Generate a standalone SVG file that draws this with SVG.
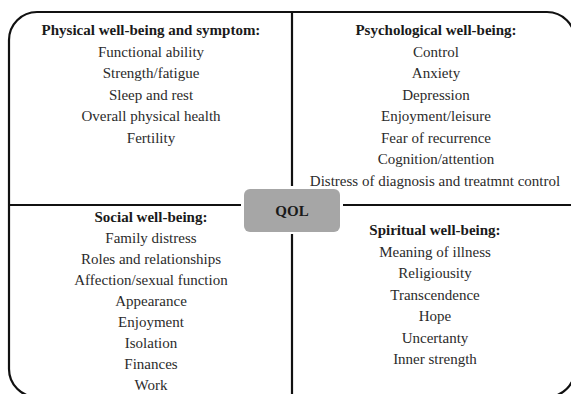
<svg xmlns="http://www.w3.org/2000/svg" width="571" height="394" viewBox="0 0 571 394" font-family="'Liberation Serif', 'DejaVu Serif', serif">
<style>
text{font-family:'Liberation Serif','DejaVu Serif',serif;text-anchor:middle;}
.h{font-size:15px;font-weight:bold;fill:#1a1a1a;}
.i{font-size:15px;fill:#2b2b2b;}
.ln{stroke:#111;stroke-width:2.2;fill:none;}
</style>
<rect width="571" height="394" fill="#fff"/>
<g id="frame">
<rect class="ln" x="9" y="12" width="566" height="385" rx="28"/>
</g>
<g id="connectors">
<line class="ln" x1="292" y1="12" x2="292" y2="186"/>
<line class="ln" x1="292" y1="234" x2="292" y2="397"/>
<line class="ln" x1="9" y1="205" x2="241" y2="205"/>
<line class="ln" x1="343" y1="205" x2="575" y2="205"/>
</g>
<g id="physical">
<text class="h" x="151" y="35">Physical well-being and symptom:</text>
<text class="i" x="151" y="56.5">Functional ability</text>
<text class="i" x="151" y="78">Strength/fatigue</text>
<text class="i" x="151" y="99.5">Sleep and rest</text>
<text class="i" x="151" y="121">Overall physical health</text>
<text class="i" x="151" y="142.5">Fertility</text>
</g>
<g id="psychological">
<text class="h" x="436" y="35">Psychological well-being:</text>
<text class="i" x="436" y="56.5">Control</text>
<text class="i" x="436" y="78">Anxiety</text>
<text class="i" x="436" y="99.5">Depression</text>
<text class="i" x="436" y="121">Enjoyment/leisure</text>
<text class="i" x="436" y="142.5">Fear of recurrence</text>
<text class="i" x="436" y="164">Cognition/attention</text>
<text class="i" x="435" y="185.5">Distress of diagnosis and treatmnt control</text>
</g>
<g id="social">
<text class="h" x="151" y="222">Social well-being:</text>
<text class="i" x="151" y="243">Family distress</text>
<text class="i" x="151" y="264">Roles and relationships</text>
<text class="i" x="151" y="285">Affection/sexual function</text>
<text class="i" x="151" y="306">Appearance</text>
<text class="i" x="151" y="327">Enjoyment</text>
<text class="i" x="151" y="348">Isolation</text>
<text class="i" x="151" y="369">Finances</text>
<text class="i" x="151" y="390">Work</text>
</g>
<g id="spiritual">
<text class="h" x="435" y="235">Spiritual well-being:</text>
<text class="i" x="435" y="256.5">Meaning of illness</text>
<text class="i" x="435" y="278">Religiousity</text>
<text class="i" x="435" y="299.5">Transcendence</text>
<text class="i" x="435" y="321">Hope</text>
<text class="i" x="435" y="342.5">Uncertanty</text>
<text class="i" x="435" y="364">Inner strength</text>
</g>
<g id="qol">
<rect x="244" y="189" width="96" height="43" rx="6" fill="#a6a6a6"/>
<text class="h" x="292" y="216">QOL</text>
</g>
</svg>
